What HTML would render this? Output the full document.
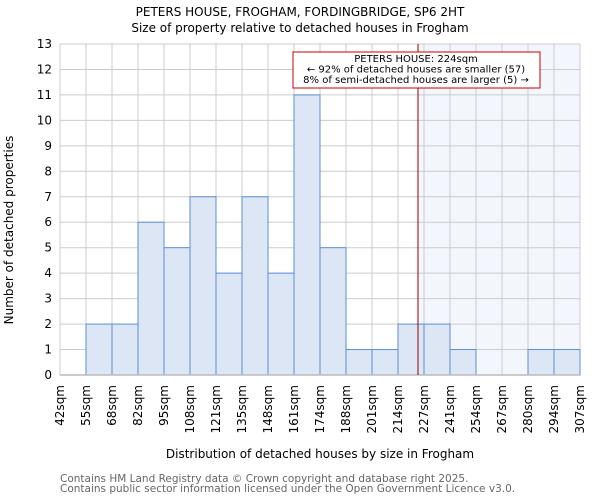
<!DOCTYPE html>
<html><head><meta charset="utf-8"><style>
body{margin:0;background:#fff;font-family:"DejaVu Sans","Liberation Sans",sans-serif;}
svg text{font-family:"DejaVu Sans","Liberation Sans",sans-serif;}
</style></head><body>
<svg id="chart" width="600" height="500" xmlns="http://www.w3.org/2000/svg">
<text x="300" y="16" text-anchor="middle" font-size="12">PETERS HOUSE, FROGHAM, FORDINGBRIDGE, SP6 2HT</text>
<text x="300" y="32" text-anchor="middle" font-size="12">Size of property relative to detached houses in Frogham</text>
<g id="plot"></g>
<text transform="translate(13,230) rotate(-90)" text-anchor="middle" font-size="12">Number of detached properties</text>
<text x="320" y="458" text-anchor="middle" font-size="12">Distribution of detached houses by size in Frogham</text>
<text x="60" y="482" font-size="10.5" fill="#666">Contains HM Land Registry data © Crown copyright and database right 2025.</text>
<text x="60" y="492" font-size="10.5" fill="#666">Contains public sector information licensed under the Open Government Licence v3.0.</text>
</svg>
<script>
const binLabels=["42sqm","55sqm","68sqm","82sqm","95sqm","108sqm","121sqm","135sqm","148sqm","161sqm","174sqm","188sqm","201sqm","214sqm","227sqm","241sqm","254sqm","267sqm","280sqm","294sqm","307sqm"];
const binEdges=[42,55,68,82,95,108,121,135,148,161,174,188,201,214,227,241,254,267,280,294,307];
const counts=[0,2,2,6,5,7,4,7,4,11,5,1,1,2,2,1,0,0,1,1];
const yTicks=[0,1,2,3,4,5,6,7,8,9,10,11,12,13];
const propertySize=224;
const annotationLines=["PETERS HOUSE: 224sqm","← 92% of detached houses are smaller (57)","8% of semi-detached houses are larger (5) →"];

const L=60,R=580,T=44,B=375,yMax=13;
const n=counts.length,bw=(R-L)/n;
const xIdx=i=>L+i*bw;
const y=v=>B-(v/yMax)*(B-T);
const xVal=v=>{for(let i=0;i<binEdges.length-1;i++){if(v<=binEdges[i+1])return xIdx(i)+(v-binEdges[i])/(binEdges[i+1]-binEdges[i])*bw;}return R;};
const g=document.getElementById('plot');
const NS="http://www.w3.org/2000/svg";
function mk(t,a){const e=document.createElementNS(NS,t);for(const k in a)e.setAttribute(k,a[k]);g.appendChild(e);return e;}
const px=xVal(propertySize);
let e=mk('rect',{x:px,y:T,width:R-px,height:B-T,fill:'#f3f6fd'});


yTicks.forEach(t=>{
 let l=mk('line',{x1:L,x2:R,y1:y(t),y2:y(t),stroke:'#cccccc','stroke-width':1});
 
 
 let tx=mk('text',{x:L-8,y:y(t)+4,'text-anchor':'end','font-size':12});
 tx.textContent=t;
 
 
});
binLabels.forEach((lab,i)=>{
 const x=xIdx(i);
 let l=mk('line',{x1:x,x2:x,y1:T,y2:B,stroke:'#cccccc','stroke-width':1});
 
 
 let tx=mk('text',{transform:`translate(${x+4},${B+10}) rotate(-90)`,'text-anchor':'end','font-size':12});
 tx.textContent=lab;
 
 
});
counts.forEach((c,i)=>{
 if(c<=0)return;
 let r=mk('rect',{x:xIdx(i),y:y(c),width:bw,height:B-y(c),fill:'#dce6f4',stroke:'#5b8fd6','stroke-width':1});
 
 
});
let ax=mk('line',{x1:L,x2:R,y1:B,y2:B,stroke:'#bbbbbb','stroke-width':1.5});


let pl=mk('line',{x1:px,x2:px,y1:T,y2:B,stroke:'#990000','stroke-width':1});


let box=mk('rect',{x:293,y:52,width:247,height:36,fill:'#fff',stroke:'#cc0000','stroke-width':1});


annotationLines.forEach((s,i)=>{
 let t=mk('text',{x:416,y:62+i*10.5,'text-anchor':'middle','font-size':10});
 t.textContent=s;
 
 
});
</script>
</body></html>
